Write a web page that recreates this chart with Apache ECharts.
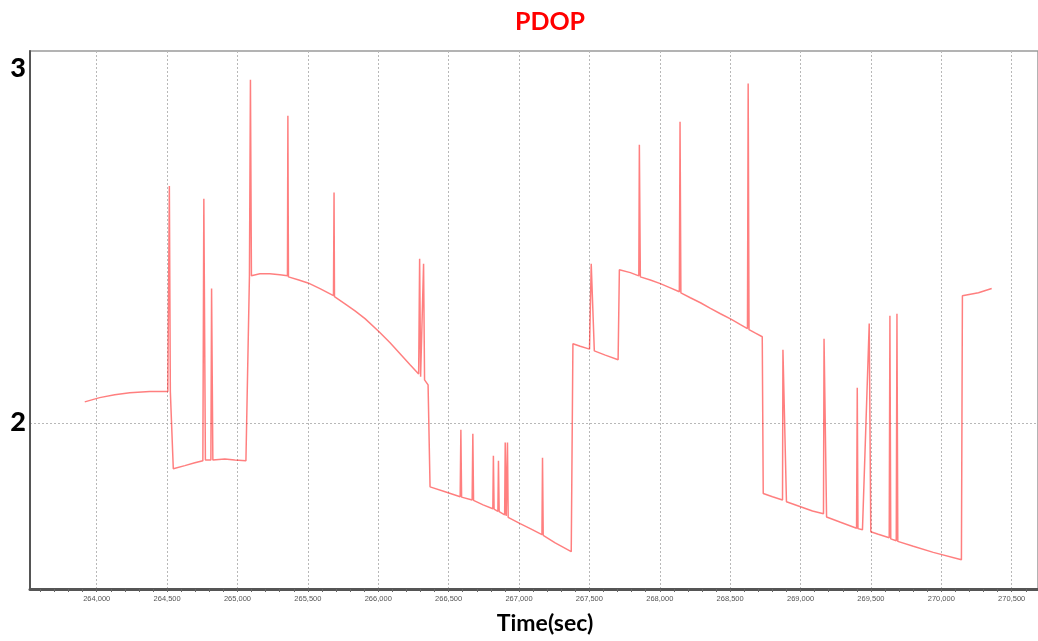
<!DOCTYPE html>
<html>
<head>
<meta charset="utf-8">
<title>PDOP</title>
<script src="https://cdn.jsdelivr.net/npm/echarts@6/dist/echarts.min.js"></script>
<style>
  html, body { margin: 0; padding: 0; background: #fff; }
  #chart { width: 1038px; height: 641px; }
</style>
</head>
<body>
<div id="chart"></div>
<script>
// GPS time of week (seconds) and the matching PDOP samples
const timeSec = [
  263915, 264021, 264128, 264235, 264377, 264505,
  264512, 264516, 264523, 264533, 264544,
  264548, 264626, 264697, 264754, 264761, 264772,
  264782, 264811, 264816, 264825, 264910, 264981, 265060,
  265067, 265085, 265092, 265099,
  265159, 265230, 265301, 265355, 265358, 265362,
  265430, 265501, 265586, 265682, 265686, 265689,
  265764, 265835, 265906, 266006, 266084, 266155, 266226,
  266287, 266294, 266301, 266322, 266329, 266354, 266368,
  266475, 266582, 266587, 266592,
  266667, 266672, 266677, 266745,
  266814, 266818, 266823, 266850, 266854, 266859,
  266898, 266902, 266909, 266918, 266923,
  267008, 267080, 267163, 267167, 267172, 267257, 267371,
  267383, 267435, 267501, 267513, 267524, 267535,
  267613, 267704, 267713,
  267791, 267851, 267855, 267862,
  267933, 268004, 268075, 268139, 268144, 268150,
  268217, 268289, 268360, 268431, 268509, 268573, 268623, 268628, 268634,
  268680, 268728, 268735,
  268801, 268872, 268875, 268889, 268900,
  269000, 269085, 269163, 269167, 269178, 269185,
  269284, 269398, 269403, 269408,
  269440, 269488, 269499,
  269552, 269630, 269635, 269641,
  269680, 269685, 269691,
  269801, 269943, 270143, 270150,
  270264, 270358
];
const pdop = [
  2.059, 2.071, 2.079, 2.085, 2.088, 2.088,
  2.088, 2.669, 2.088, 2.088, 1.870,
  1.870, 1.879, 1.887, 1.893, 2.633, 1.895,
  1.895, 1.895, 2.379, 1.895, 1.898, 1.895, 1.893,
  1.893, 2.415, 2.969, 2.415,
  2.421, 2.421, 2.418, 2.415, 2.867, 2.412,
  2.404, 2.395, 2.379, 2.359, 2.650, 2.356,
  2.336, 2.316, 2.294, 2.257, 2.226, 2.195, 2.164,
  2.138, 2.463, 2.130, 2.449, 2.121, 2.107, 1.819,
  1.805, 1.791, 1.980, 1.790,
  1.782, 1.969, 1.781, 1.768,
  1.757, 1.907, 1.756, 1.750, 1.893, 1.749,
  1.740, 1.944, 1.737, 1.944, 1.733,
  1.715, 1.701, 1.684, 1.901, 1.682, 1.661, 1.636,
  2.223, 2.216, 2.208, 2.449, 2.449, 2.203,
  2.191, 2.178, 2.432,
  2.424, 2.415, 2.785, 2.412,
  2.403, 2.393, 2.381, 2.370, 2.850, 2.367,
  2.353, 2.339, 2.323, 2.308, 2.292, 2.277, 2.266, 2.958, 2.263,
  2.253, 2.243, 1.800,
  1.791, 1.782, 2.206, 2.206, 1.777,
  1.763, 1.751, 1.743, 2.237, 2.237, 1.734,
  1.719, 1.702, 2.099, 1.701,
  1.698, 2.280, 1.692,
  1.685, 1.675, 2.302, 1.672,
  1.667, 2.308, 1.665,
  1.651, 1.634, 1.613, 2.359,
  2.367, 2.379
];

// Axis ticks
const timeTicks = [264000, 264500, 265000, 265500, 266000, 266500, 267000,
                   267500, 268000, 268500, 269000, 269500, 270000, 270500];
const pdopTicks = [2];
const pdopLabels = [2, 3];

const X_MIN = 263526, X_MAX = 270687;
const Y_MIN = 1.5305, Y_MAX = 3.05;

// small ticks every 100 s along the time axis
const minorTimeTicks = [];
for (let t = 263600; t <= X_MAX; t += 100) minorTimeTicks.push(t);

const points = timeSec.map((t, i) => [t, pdop[i]]);

const chart = echarts.init(document.getElementById('chart'), null, { renderer: 'canvas' });

chart.setOption({
  animation: false,
  backgroundColor: '#ffffff',
  grid: {
    left: 30, right: 0, top: 51, bottom: 52,
    show: true, borderColor: '#9a9a9a', borderWidth: 1.5, backgroundColor: 'transparent'
  },
  graphic: [
    {
      type: 'text', x: 550, y: 22,
      style: { text: 'PDOP', fill: '#ff0000', font: 'bold 25px Lato', align: 'center', verticalAlign: 'middle' }
    },
    {
      type: 'text', x: 545, y: 624,
      style: { text: 'Time(sec)', fill: '#000000', font: 'bold 23px Lato', align: 'center', verticalAlign: 'middle' }
    }
  ],
  xAxis: [
    {
      type: 'value', min: X_MIN, max: X_MAX,
      axisLine: { show: true, lineStyle: { color: '#555555', width: 3 } },
      axisTick: { show: false, customValues: timeTicks },
      axisLabel: {
        customValues: timeTicks, color: '#555555', fontSize: 7.5, fontFamily: 'Liberation Sans', margin: 6,
        formatter: v => v.toLocaleString('en-US')
      },
      splitLine: { show: true, lineStyle: { color: '#b8b8b8', type: [2, 2], width: 1 } }
    },
    {
      type: 'value', min: X_MIN, max: X_MAX, position: 'bottom',
      axisLine: { show: false },
      axisTick: { show: true, customValues: minorTimeTicks, length: 3, lineStyle: { color: '#666666', width: 1 } },
      axisLabel: { show: false },
      splitLine: { show: false }
    }
  ],
  yAxis: {
    type: 'value', min: Y_MIN, max: Y_MAX,
    axisLine: { show: true, lineStyle: { color: '#555555', width: 2 } },
    axisTick: { show: false, customValues: pdopTicks },
    axisLabel: {
      customValues: pdopLabels, color: '#000000', fontSize: 27, fontWeight: 900, fontFamily: 'Lato', margin: 4
    },
    splitLine: { show: true, lineStyle: { color: '#b8b8b8', type: [2, 2], width: 1 } }
  },
  series: [{
    type: 'line',
    xAxisIndex: 0,
    data: points,
    showSymbol: false,
    symbol: 'none',
    lineStyle: { color: 'rgba(255,0,0,0.5)', width: 1.5 },
    itemStyle: { color: 'rgba(255,0,0,0.5)' },
    z: 3
  }]
});
</script>
</body>
</html>
